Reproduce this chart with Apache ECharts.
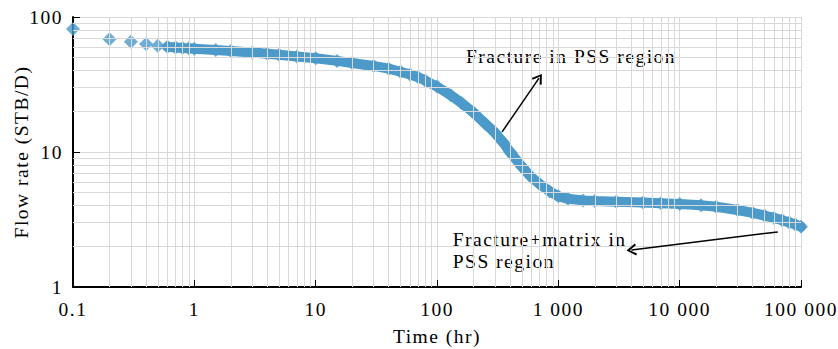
<!DOCTYPE html>
<html>
<head>
<meta charset="utf-8">
<script src="https://cdn.jsdelivr.net/npm/echarts@6/dist/echarts.min.js"></script>
<style>
  html, body { margin: 0; padding: 0; background: #fff; }
  #chart { width: 838px; height: 349px; }
  #chart text { letter-spacing: 1.5px; }
</style>
</head>
<body>
<div id="chart"></div>
<script>
// Production time (hr) and flow rate (STB/D)
const timeHr = [
  0.1, 0.2, 0.3, 0.4, 0.5, 0.6, 0.7, 0.8, 0.9, 1,
  1.5, 2, 3, 4, 5, 7, 10, 15, 20, 30,
  40, 50, 60, 70, 80, 100, 130, 160, 200, 250,
  300, 350, 400, 500, 600, 700, 850, 1000, 1200, 1600,
  2000, 3000, 5000, 7000, 10000, 15000, 20000, 30000, 40000, 50000,
  60000, 70000, 80000, 90000, 100000
];
const flowRate = [
  81.5, 68.5, 65.5, 63, 61.3, 60.2, 59.4, 58.9, 58.6, 58.3,
  57, 56, 54.6, 53.4, 52.5, 51, 49.5, 47.3, 45.6, 43.4,
  41.4, 39.3, 37.5, 35.8, 33.8, 30.5, 26.3, 23, 19.6, 16.2,
  13.9, 11.8, 10, 7.8, 6.5, 5.8, 5.1, 4.7, 4.5, 4.38,
  4.33, 4.28, 4.22, 4.17, 4.12, 4.03, 3.93, 3.72, 3.54, 3.38,
  3.25, 3.12, 3.0, 2.9, 2.8
];
// first sample from which the markers merge into a continuous band
const bandStartIndex = 5;

const xTickLabels = ['0.1', '1', '10', '100', '1 000', '10 000', '100 000'];
const yTickLabels = ['1', '10', '100'];
const xDecades = [-1, 0, 1, 2, 3, 4];
const yDecades = [0, 1];

// Annotation arrows: [from, to] in (time, rate)
const arrowFracture = [[344, 14.1], [693, 35.3]];
const arrowMatrix = [[64400, 2.56], [4010, 1.88]];

const SERIF = '"Liberation Serif", "Times New Roman", serif';
const FONT_SIZE = 19.5;
const BLUE = '#4b9ac9';
const GRID = '#d9d9d9';
const INK = '#000';

function minorValues(decades) {
  const out = [];
  decades.forEach(function (e) {
    for (let k = 2; k <= 9; k++) out.push(k * Math.pow(10, e));
  });
  return out;
}

function decadeLabel(labels, first) {
  return function (v) {
    const i = Math.round(Math.log10(v)) - first;
    return labels[i] !== undefined ? labels[i] : '';
  };
}

const points = timeHr.map(function (t, i) { return [t, flowRate[i]]; });
const chevron = 'path://M5,0 L10,9 L8.5,10 L5,3.2 L1.5,10 L0,9 Z';
const textFont = FONT_SIZE + 'px ' + SERIF;

const chart = echarts.init(document.getElementById('chart'), null, { renderer: 'svg' });
chart.setOption({
  animation: false,
  backgroundColor: '#fff',
  grid: { left: 73, right: 37, top: 17, bottom: 62, containLabel: false, outerBoundsMode: 'none' },
  xAxis: {
    type: 'log', logBase: 10, min: 0.1, max: 100000, splitNumber: 10,
    name: 'Time (hr)', nameLocation: 'middle', nameGap: 39, nameMoveOverlap: false,
    nameTextStyle: { fontFamily: SERIF, fontSize: FONT_SIZE, color: INK },
    axisLine: { show: true, onZero: false, lineStyle: { color: INK, width: 2 } },
    axisTick: { show: true, inside: true, length: 7, lineStyle: { color: INK, width: 1 } },
    axisLabel: { margin: 12, fontFamily: SERIF, fontSize: FONT_SIZE, color: INK, formatter: decadeLabel(xTickLabels, -1) },
    splitLine: { show: true, lineStyle: { color: GRID, width: 1 } },
    minorTick: { show: false }
  },
  yAxis: {
    type: 'log', logBase: 10, min: 1, max: 100, splitNumber: 10,
    name: 'Flow rate (STB/D)', nameLocation: 'middle', nameGap: 42, nameRotate: 90, nameMoveOverlap: false,
    nameTextStyle: { fontFamily: SERIF, fontSize: FONT_SIZE, color: INK },
    axisLine: { show: true, onZero: false, lineStyle: { color: INK, width: 2 } },
    axisTick: { show: true, inside: true, length: 7, lineStyle: { color: INK, width: 1 } },
    axisLabel: { margin: 10, fontFamily: SERIF, fontSize: FONT_SIZE, color: INK, formatter: decadeLabel(yTickLabels, 0) },
    splitLine: { show: true, lineStyle: { color: GRID, width: 1 } }
  },
  series: [
    {
      // minor log grid lines (2..9 within each decade)
      type: 'line', data: [], silent: true, z: 1,
      markLine: {
        silent: true, symbol: 'none', animation: false,
        label: { show: false },
        lineStyle: { color: GRID, width: 1, type: 'solid' },
        emphasis: { disabled: true },
        data: minorValues(xDecades).map(function (v) { return { xAxis: v }; })
          .concat(minorValues(yDecades).map(function (v) { return { yAxis: v }; }))
      }
    },
    {
      type: 'line', data: points.slice(bandStartIndex), showSymbol: false, silent: true, z: 2,
      lineStyle: { color: BLUE, width: 10, cap: 'round', join: 'round' }
    },
    {
      type: 'scatter', data: points, symbol: 'diamond', symbolSize: [14, 14], z: 3, clip: false,
      itemStyle: { color: BLUE }
    },
    {
      type: 'line', data: [], silent: true, z: 4,
      markLine: {
        silent: true, animation: false,
        symbol: ['none', chevron], symbolSize: [12, 10],
        label: { show: false },
        lineStyle: { color: INK, width: 1.5, type: 'solid' },
        itemStyle: { color: INK },
        emphasis: { disabled: true },
        data: [
          [{ coord: arrowFracture[0] }, { coord: arrowFracture[1] }],
          [{ coord: arrowMatrix[0] }, { coord: arrowMatrix[1] }]
        ]
      }
    }
  ],
  graphic: [
    { type: 'text', x: 466, y: 56.3, style: { text: 'Fracture in PSS region', font: textFont, fill: INK, verticalAlign: 'middle' } },
    { type: 'text', x: 452.7, y: 239.5, style: { text: 'Fracture+matrix in', font: textFont, fill: INK, verticalAlign: 'middle' } },
    { type: 'text', x: 452.7, y: 261.7, style: { text: 'PSS region', font: textFont, fill: INK, verticalAlign: 'middle' } }
  ]
});
</script>
</body>
</html>
